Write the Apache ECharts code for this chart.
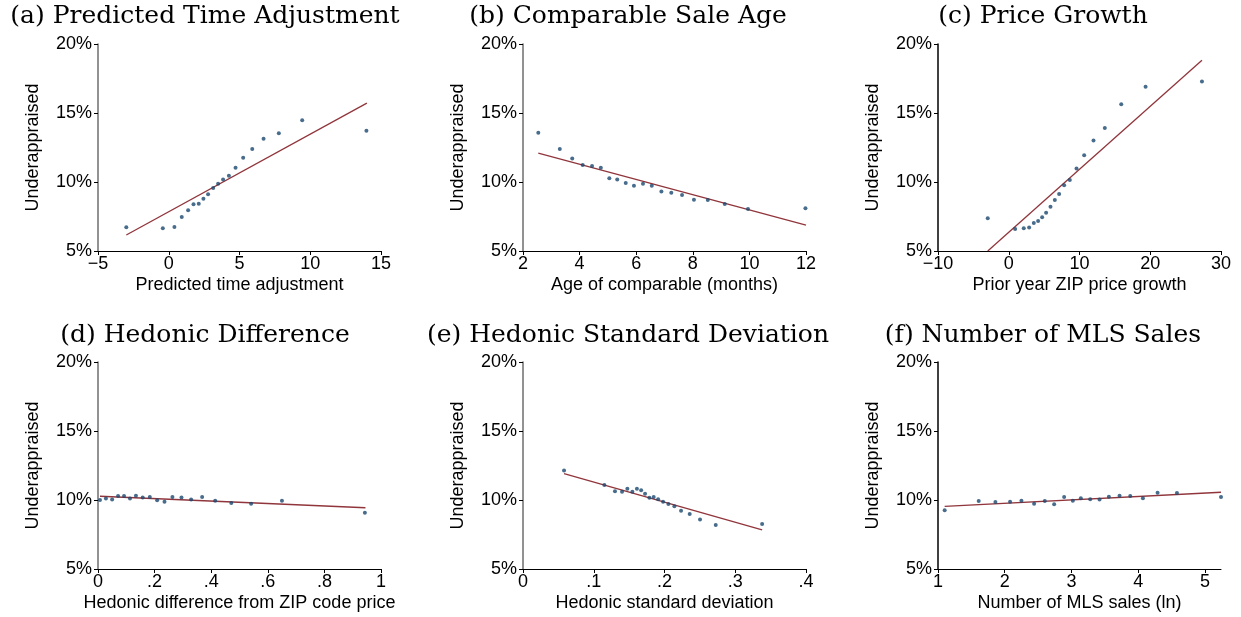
<!DOCTYPE html>
<html>
<head>
<meta charset="utf-8">
<script src="https://cdn.jsdelivr.net/npm/echarts@6/dist/echarts.min.js"></script>
<style>
  html, body { margin: 0; padding: 0; background: #fff; }
  #chart { width: 1241px; height: 617px; }
</style>
</head>
<body>
<div id="chart"></div>
<script>
// binned scatter points, [x, % underappraised]
var ptsA = [[-3.0,6.72],[-0.42,6.64],[0.40,6.74],[0.92,7.46],[1.37,7.95],[1.75,8.38],[2.12,8.43],[2.45,8.79],[2.78,9.11],[3.14,9.57],
            [3.49,9.88],[3.84,10.19],[4.25,10.46],[4.72,11.04],[5.26,11.76],[5.90,12.39],[6.70,13.14],[7.78,13.53],[9.43,14.47],[13.97,13.72]];
var fitA = [[-3.0,6.16],[14.0,15.72]];

var ptsB = [[2.54,13.57],[3.30,12.39],[3.74,11.71],[4.11,11.23],[4.44,11.16],[4.75,11.04],[5.05,10.27],[5.33,10.19],[5.63,9.93],[5.92,9.73],
            [6.24,9.88],[6.55,9.73],[6.89,9.32],[7.24,9.23],[7.62,9.06],[8.04,8.72],[8.53,8.70],[9.13,8.41],[9.95,8.04],[11.98,8.09]];
var fitB = [[2.54,12.10],[12.0,6.88]];

var ptsC = [[-2.97,7.37],[0.90,6.59],[2.12,6.64],[2.88,6.71],[3.54,7.03],[4.15,7.17],[4.72,7.44],[5.28,7.78],[5.90,8.21],[6.51,8.70],
            [7.12,9.13],[7.83,9.76],[8.63,10.14],[9.58,10.97],[10.66,11.93],[11.98,13.00],[13.58,13.91],[15.90,15.63],[19.34,16.91],[27.31,17.29]];
var fitC = [[-2.97,5.0],[27.31,18.82]];

var ptsD = [[0.007,10.0],[0.028,10.10],[0.05,10.03],[0.071,10.29],[0.092,10.29],[0.113,10.10],[0.134,10.31],[0.158,10.19],[0.183,10.22],[0.209,9.98],
            [0.235,9.88],[0.263,10.22],[0.295,10.19],[0.329,10.03],[0.368,10.22],[0.414,9.95],[0.471,9.78],[0.541,9.73],[0.650,9.95],[0.943,9.08]];
var fitD = [[0.007,10.27],[0.945,9.44]];

var ptsE = [[0.058,12.13],[0.115,11.09],[0.130,10.63],[0.140,10.60],[0.1475,10.82],[0.1546,10.60],[0.161,10.82],[0.167,10.70],[0.1725,10.46],[0.1786,10.17],
            [0.1847,10.22],[0.191,10.05],[0.198,9.88],[0.2055,9.71],[0.214,9.54],[0.2234,9.23],[0.2356,8.99],[0.2502,8.58],[0.2724,8.19],[0.338,8.26]];
var fitE = [[0.058,11.91],[0.338,7.83]];

var ptsF = [[1.10,9.25],[1.61,9.93],[1.86,9.86],[2.08,9.88],[2.25,9.95],[2.44,9.73],[2.60,9.93],[2.74,9.69],[2.89,10.22],[3.02,9.95],
            [3.14,10.12],[3.28,10.05],[3.42,10.03],[3.56,10.24],[3.72,10.31],[3.88,10.29],[4.07,10.12],[4.29,10.53],[4.58,10.51],[5.24,10.22]];
var fitF = [[1.10,9.54],[5.24,10.56]];

var titles = ["(a) Predicted Time Adjustment","(b) Comparable Sale Age","(c) Price Growth",
              "(d) Hedonic Difference","(e) Hedonic Standard Deviation","(f) Number of MLS Sales"];
var xNames = ["Predicted time adjustment","Age of comparable (months)","Prior year ZIP price growth",
              "Hedonic difference from ZIP code price","Hedonic standard deviation","Number of MLS sales (ln)"];
var xMin = [-5, 2, -10, 0, 0, 1];
var xMax = [15, 12, 30, 1, 0.4, 5.24];
var xStep = [5, 2, 10, 0.2, 0.1, 1];

var pts = [ptsA, ptsB, ptsC, ptsD, ptsE, ptsF];
var fits = [fitA, fitB, fitC, fitD, fitE, fitF];

var chart = echarts.init(document.getElementById('chart'), null, {renderer: 'canvas'});

var colLeft = [98, 523, 938];
var rowTop = [44, 362];
var panelCenter = [200, 623, 1038];
var titleTop = [-1, 318];
var sans = "'Liberation Sans', Arial, sans-serif";
var axisGray = ['#6e6e6e', '#6e6e6e', '#000', '#6e6e6e', '#6e6e6e', '#000'];

function xLabel(v) {
    var s = String(Math.round(v * 1000) / 1000);
    if (s.indexOf('0.') === 0) s = s.substring(1);
    return s.replace('-', '\u2212');
}

var option = {
    backgroundColor: '#fff',
    animation: false,
    title: [], grid: [], xAxis: [], yAxis: [], series: []
};

for (var i = 0; i < 6; i++) {
    var c = i % 3, r = Math.floor(i / 3);
    option.title.push({
        text: titles[i], left: panelCenter[c], top: titleTop[r], textAlign: 'center',
        textStyle: {fontFamily: "'DejaVu Serif', serif", fontWeight: 'normal', fontSize: 25, color: '#000'}
    });
    option.grid.push({left: colLeft[c], top: rowTop[r], width: 283, height: 207});

    var xa = {
        gridIndex: i, type: 'value', min: xMin[i], max: xMax[i], interval: xStep[i],
        name: xNames[i], nameLocation: 'middle', nameGap: 25,
        nameTextStyle: {fontFamily: sans, fontSize: 18, color: '#000'},
        splitLine: {show: false},
        axisLine: {onZero: false, lineStyle: {color: '#000', width: 1}},
        axisTick: {show: true, inside: false, length: 4, lineStyle: {color: '#000'}},
        axisLabel: {fontFamily: sans, fontSize: 18, color: '#000', margin: 4, formatter: xLabel}
    };
    if (i === 5) {
        var fTicks = [1, 2, 3, 4, 5];
        xa.axisTick.customValues = fTicks;
        xa.axisLabel.customValues = fTicks;
    }
    option.xAxis.push(xa);

    option.yAxis.push({
        gridIndex: i, type: 'value', min: 5, max: 20, interval: 5,
        name: 'Underappraised', nameLocation: 'middle', nameGap: 56,
        nameTextStyle: {fontFamily: sans, fontSize: 18, color: '#000'},
        splitLine: {show: false},
        axisLine: {show: true, onZero: false, lineStyle: {color: axisGray[i], width: 1.5}},
        axisTick: {show: true, inside: false, length: 4, lineStyle: {color: '#000'}},
        axisLabel: {fontFamily: sans, fontSize: 18, color: '#000', margin: 6, formatter: '{value}%'}
    });

    option.series.push({
        type: 'line', xAxisIndex: i, yAxisIndex: i, data: fits[i],
        showSymbol: false, lineStyle: {color: '#90353b', width: 1.3}, z: 2
    });
    option.series.push({
        type: 'scatter', xAxisIndex: i, yAxisIndex: i, data: pts[i],
        symbolSize: 4, itemStyle: {color: '#1a476f'}, z: 3
    });
}

chart.setOption(option);
</script>
</body>
</html>
